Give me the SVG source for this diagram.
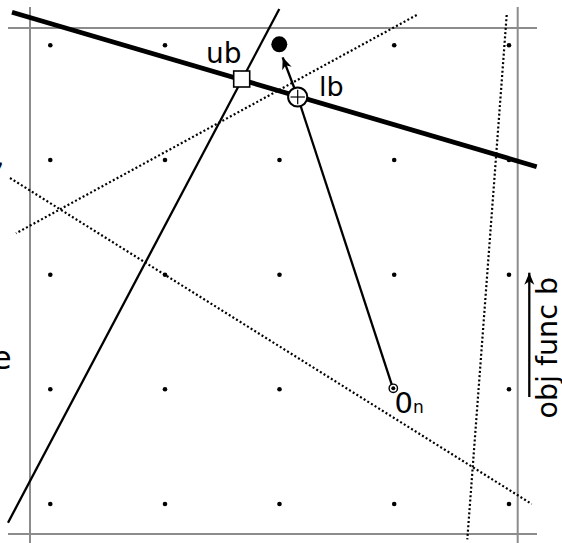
<svg xmlns="http://www.w3.org/2000/svg" width="562" height="543" viewBox="0 0 562 543">
<style>
.grid{stroke:#8c8c8c;stroke-width:2;fill:none}
.dot{fill:#000}
.dotted{stroke:#000;stroke-width:2.2;stroke-dasharray:2 2.3;fill:none}
.thin{stroke:#000;stroke-width:2.3;fill:none}
.thick{stroke:#000;stroke-width:4.8;fill:none}
.lbl{font-family:"DejaVu Sans",sans-serif;fill:#000}
</style>
<defs>
<marker id="arr" viewBox="-13 -6 14 12" refX="0" refY="0" markerWidth="14" markerHeight="12" orient="auto" markerUnits="userSpaceOnUse">
<path d="M0,0 L-12,-5 L-8.5,0 L-12,5 z" fill="#000"/>
</marker>
</defs>
<rect width="562" height="543" fill="#fff"/>
<g id="frame">
<line class="grid" x1="8" y1="28" x2="537" y2="28"/>
<line class="grid" x1="8" y1="534" x2="537" y2="534"/>
<line class="grid" x1="30" y1="7" x2="30" y2="543"/>
<line class="grid" x1="517.7" y1="7" x2="517.7" y2="543"/>
</g>
<g id="lattice">
<circle class="dot" cx="50.3" cy="45.3" r="2.3"/><circle class="dot" cx="165" cy="45.3" r="2.3"/><circle class="dot" cx="279.5" cy="45.3" r="2.3"/><circle class="dot" cx="394.2" cy="45.3" r="2.3"/><circle class="dot" cx="509" cy="45.3" r="2.3"/>
<circle class="dot" cx="50.3" cy="160" r="2.3"/><circle class="dot" cx="165" cy="160" r="2.3"/><circle class="dot" cx="279.5" cy="160" r="2.3"/><circle class="dot" cx="394.2" cy="160" r="2.3"/><circle class="dot" cx="509" cy="160" r="2.3"/>
<circle class="dot" cx="50.3" cy="274.7" r="2.3"/><circle class="dot" cx="165" cy="274.7" r="2.3"/><circle class="dot" cx="279.5" cy="274.7" r="2.3"/><circle class="dot" cx="394.2" cy="274.7" r="2.3"/><circle class="dot" cx="509" cy="274.7" r="2.3"/>
<circle class="dot" cx="50.3" cy="389.3" r="2.3"/><circle class="dot" cx="165" cy="389.3" r="2.3"/><circle class="dot" cx="279.5" cy="389.3" r="2.3"/><circle class="dot" cx="394.2" cy="389.3" r="2.3"/><circle class="dot" cx="509" cy="389.3" r="2.3"/>
<circle class="dot" cx="50.3" cy="504" r="2.3"/><circle class="dot" cx="165" cy="504" r="2.3"/><circle class="dot" cx="279.5" cy="504" r="2.3"/><circle class="dot" cx="394.2" cy="504" r="2.3"/><circle class="dot" cx="509" cy="504" r="2.3"/>
</g>
<g id="connectors">
<line class="dotted" x1="416.7" y1="15" x2="16" y2="233.3"/>
<line class="dotted" x1="10" y1="178" x2="531.7" y2="504"/>
<line class="dotted" x1="506.7" y1="15" x2="467.3" y2="539.3"/>
<line class="thin" x1="279.3" y1="9" x2="8" y2="522.7"/>
<line class="thick" x1="12" y1="12.3" x2="536.7" y2="166.7"/>
<line class="thin" x1="297.7" y1="97" x2="393" y2="388.3"/>
<line class="thin" x1="297.7" y1="97" x2="282.7" y2="57.3" marker-end="url(#arr)"/>
<line class="thin" x1="529.3" y1="397" x2="529.3" y2="272.7" marker-end="url(#arr)"/>
</g>
<g id="target">
<circle cx="279.3" cy="44.3" r="8" fill="#000"/>
</g>
<g id="ub-node">
<rect x="233.7" y="71" width="16" height="16" fill="#fff" stroke="#000" stroke-width="1.6"/>
<text class="lbl" x="206" y="63" font-size="28">ub</text>
</g>
<g id="lb-node">
<circle cx="297.7" cy="97" r="9.6" fill="#fff" stroke="#000" stroke-width="2"/>
<line x1="290.5" y1="97" x2="304.9" y2="97" stroke="#000" stroke-width="1.2"/>
<line x1="297.7" y1="89.8" x2="297.7" y2="104.2" stroke="#000" stroke-width="1.2"/>
<text class="lbl" x="319" y="96" font-size="27">lb</text>
</g>
<g id="on-node">
<circle cx="393.3" cy="388.3" r="4.2" fill="#fff" stroke="#000" stroke-width="1.4"/>
<circle cx="393.3" cy="388.3" r="2" fill="#000"/>
<text class="lbl" x="394.5" y="413" font-size="29">0<tspan font-size="17">n</tspan></text>
</g>
<g id="axis-label">
<text class="lbl" font-size="28.5" transform="translate(556.5 418.5) rotate(-90)">obj func b</text>
</g>
<g id="edge-texts">
<text class="lbl" x="-4" y="166" font-size="26">,</text>
<text class="lbl" x="-8" y="369" font-size="32">e</text>
</g>
</svg>
